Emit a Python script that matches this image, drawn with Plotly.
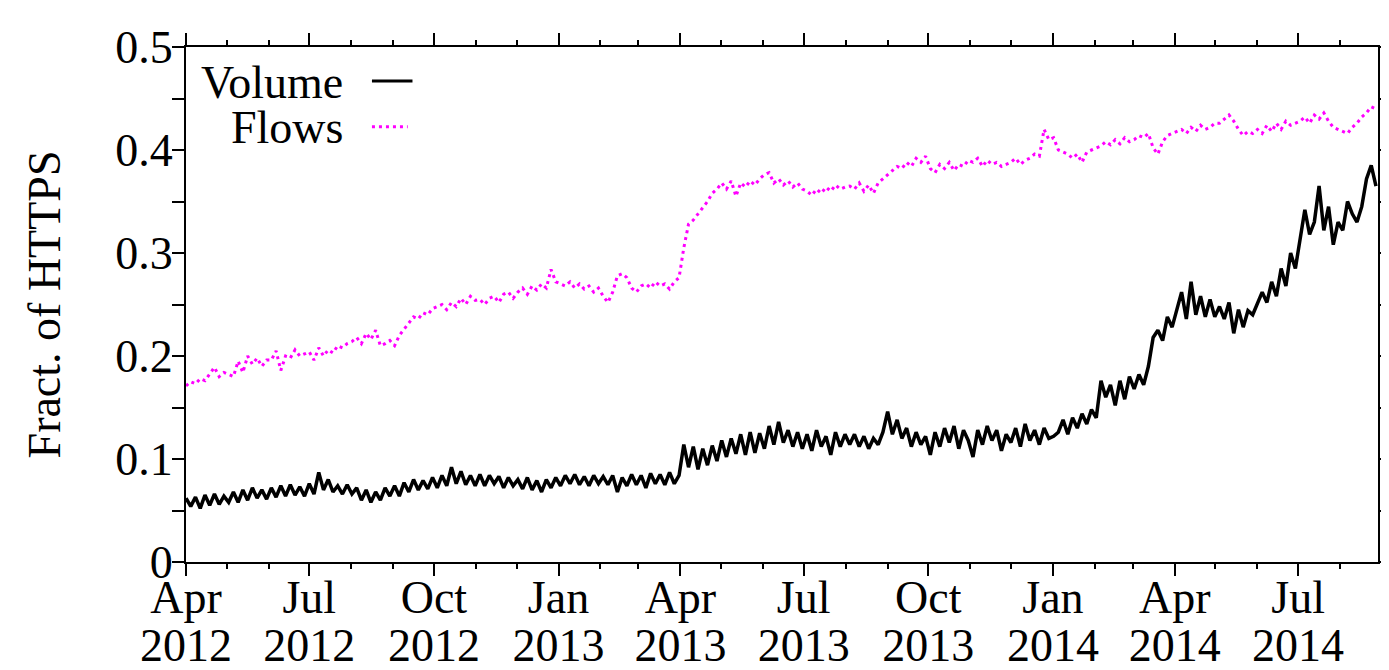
import pandas as pd
import plotly.graph_objects as go

# Half-week samples starting 2012-04-01 (3.5 day spacing)
start_date = "2012-04-01"
step = "84h"

volume = [
    # Apr 2012
    0.062, 0.054, 0.063, 0.052, 0.065, 0.055, 0.066, 0.056, 0.064,
    # May
    0.058, 0.068, 0.058, 0.070, 0.060, 0.072, 0.062, 0.070, 0.061,
    # Jun
    0.072, 0.063, 0.074, 0.064, 0.075, 0.065, 0.073, 0.064,
    # Jul
    0.076, 0.066, 0.087, 0.070, 0.080, 0.068, 0.074, 0.066, 0.075,
    # Aug
    0.066, 0.072, 0.060, 0.070, 0.058, 0.068, 0.060, 0.072, 0.064,
    # Sep
    0.074, 0.064, 0.077, 0.068, 0.080, 0.070, 0.079, 0.071, 0.082,
    # Oct
    0.072, 0.084, 0.074, 0.092, 0.076, 0.088, 0.075, 0.084, 0.074,
    # Nov
    0.085, 0.074, 0.084, 0.076, 0.083, 0.072, 0.082, 0.074,
    # Dec
    0.080, 0.071, 0.082, 0.070, 0.079, 0.068, 0.080, 0.072, 0.082,
    # Jan 2013
    0.074, 0.084, 0.076, 0.085, 0.075, 0.083, 0.074, 0.084, 0.076,
    # Feb
    0.083, 0.075, 0.084, 0.068, 0.082, 0.074, 0.085, 0.075,
    # Mar
    0.084, 0.072, 0.086, 0.076, 0.085, 0.075, 0.087, 0.076, 0.084,
    # Apr 2013
    0.114, 0.092, 0.112, 0.090, 0.110, 0.094, 0.113, 0.098,
    # May
    0.118, 0.102, 0.120, 0.105, 0.124, 0.104, 0.126, 0.106, 0.125,
    # Jun
    0.110, 0.132, 0.114, 0.136, 0.116, 0.128, 0.112, 0.126, 0.110,
    # Jul
    0.124, 0.108, 0.128, 0.112, 0.122, 0.104, 0.126, 0.112, 0.124,
    # Aug
    0.114, 0.124, 0.112, 0.122, 0.110, 0.120, 0.114, 0.126,
    # Sep
    0.146, 0.124, 0.138, 0.120, 0.130, 0.112, 0.126, 0.114, 0.122,
    # Oct
    0.104, 0.126, 0.112, 0.130, 0.116, 0.132, 0.110, 0.128, 0.118,
    # Nov
    0.102, 0.128, 0.114, 0.132, 0.118, 0.128, 0.108, 0.124,
    # Dec
    0.116, 0.130, 0.112, 0.134, 0.118, 0.128, 0.114, 0.130, 0.120,
    # Jan 2014
    0.122, 0.126, 0.138, 0.124, 0.140, 0.130, 0.144, 0.134, 0.148,
    # Feb
    0.140, 0.176, 0.160, 0.172, 0.152, 0.176, 0.158, 0.180,
    # Mar
    0.168, 0.182, 0.172, 0.190, 0.218, 0.225, 0.215, 0.238, 0.228,
    # Apr
    0.245, 0.262, 0.236, 0.272, 0.240, 0.258, 0.238, 0.255, 0.238,
    # May
    0.248, 0.236, 0.252, 0.222, 0.245, 0.228, 0.244, 0.240,
    # Jun
    0.250, 0.262, 0.252, 0.272, 0.258, 0.285, 0.268, 0.300, 0.285,
    # Jul
    0.315, 0.342, 0.318, 0.330, 0.365, 0.322, 0.345, 0.308, 0.330,
    # Aug
    0.322, 0.350, 0.338, 0.330, 0.345, 0.372, 0.385, 0.365,
]

flows = [
    # Apr 2012
    0.171, 0.175, 0.173, 0.178, 0.176, 0.182, 0.189, 0.180, 0.184,
    # May
    0.182, 0.180, 0.195, 0.184, 0.200, 0.192, 0.198, 0.190, 0.196,
    # Jun
    0.196, 0.205, 0.186, 0.200, 0.198, 0.206, 0.200, 0.202,
    # Jul
    0.204, 0.196, 0.208, 0.200, 0.206, 0.203, 0.210, 0.208, 0.212,
    # Aug
    0.214, 0.218, 0.212, 0.222, 0.216, 0.225, 0.210, 0.212, 0.215,
    # Sep
    0.210, 0.220, 0.226, 0.232, 0.238, 0.236, 0.242, 0.240, 0.246,
    # Oct
    0.248, 0.250, 0.245, 0.252, 0.248, 0.256, 0.250, 0.258, 0.254,
    # Nov
    0.255, 0.250, 0.256, 0.258, 0.252, 0.260, 0.262, 0.256,
    # Dec
    0.262, 0.266, 0.260, 0.268, 0.264, 0.270, 0.266, 0.284, 0.272,
    # Jan 2013
    0.270, 0.268, 0.272, 0.266, 0.270, 0.265, 0.268, 0.262, 0.266,
    # Feb
    0.258, 0.252, 0.262, 0.278, 0.280, 0.276, 0.266, 0.262,
    # Mar
    0.268, 0.270, 0.266, 0.272, 0.268, 0.270, 0.265, 0.272, 0.276,
    # Apr 2013
    0.305, 0.328, 0.332, 0.338, 0.344, 0.350, 0.358, 0.362,
    # May
    0.368, 0.362, 0.370, 0.355, 0.368, 0.364, 0.370, 0.366, 0.372,
    # Jun
    0.376, 0.378, 0.368, 0.372, 0.366, 0.370, 0.364, 0.368, 0.362,
    # Jul
    0.360, 0.356, 0.362, 0.358, 0.364, 0.360, 0.366, 0.362, 0.364,
    # Aug
    0.365, 0.362, 0.368, 0.360, 0.366, 0.358, 0.368, 0.372,
    # Sep
    0.376, 0.380, 0.384, 0.382, 0.388, 0.384, 0.392, 0.388, 0.394,
    # Oct
    0.382, 0.378, 0.386, 0.382, 0.388, 0.380, 0.386, 0.384, 0.390,
    # Nov
    0.388, 0.392, 0.384, 0.390, 0.386, 0.388, 0.384, 0.386,
    # Dec
    0.388, 0.392, 0.386, 0.390, 0.392, 0.396, 0.394, 0.420, 0.410,
    # Jan 2014
    0.412, 0.400, 0.398, 0.396, 0.392, 0.396, 0.388, 0.398, 0.400,
    # Feb
    0.402, 0.404, 0.408, 0.405, 0.410, 0.406, 0.412, 0.408,
    # Mar
    0.410, 0.414, 0.412, 0.416, 0.402, 0.396, 0.408, 0.414, 0.416,
    # Apr
    0.418, 0.420, 0.416, 0.422, 0.418, 0.424, 0.420, 0.422, 0.426,
    # May
    0.426, 0.430, 0.434, 0.428, 0.420, 0.414, 0.418, 0.416,
    # Jun
    0.420, 0.416, 0.424, 0.418, 0.426, 0.420, 0.428, 0.424, 0.426,
    # Jul
    0.428, 0.432, 0.426, 0.434, 0.430, 0.436, 0.428, 0.422, 0.420,
    # Aug
    0.418, 0.416, 0.422, 0.426, 0.432, 0.436, 0.442, 0.440,
]

x_tick_dates = ["2012-04-01", "2012-07-01", "2012-10-01", "2013-01-01",
                "2013-04-01", "2013-07-01", "2013-10-01", "2014-01-01",
                "2014-04-01", "2014-07-01"]
x_tick_months = ["Apr", "Jul", "Oct", "Jan", "Apr", "Jul", "Oct", "Jan",
                 "Apr", "Jul"]
x_tick_years = ["2012", "2012", "2012", "2013", "2013", "2013", "2013",
                "2014", "2014", "2014"]
y_tick_vals = [0, 0.1, 0.2, 0.3, 0.4, 0.5]
y_tick_labels = ["0", "0.1", "0.2", "0.3", "0.4", "0.5"]

dates = pd.date_range(start_date, periods=len(volume), freq=step)
minor_months = pd.date_range("2012-04-01", "2014-09-01", freq="MS")
x_range = ["2012-04-01", "2014-08-29"]

FONT = "Liberation Serif, Times New Roman, serif"
FS = 46

fig = go.Figure()
fig.add_trace(go.Scatter(x=dates, y=volume, mode="lines", name="Volume",
                         line=dict(color="black", width=3.5)))
fig.add_trace(go.Scatter(x=dates, y=flows, mode="lines", name="Flows",
                         line=dict(color="#ff00ff", width=3, dash="3px,4px")))
# carrier trace for the year-label axis (invisible)
fig.add_trace(go.Scatter(x=dates, y=volume, mode="lines", xaxis="x2",
                         line=dict(width=0), opacity=0, hoverinfo="skip",
                         showlegend=False))

axis_common = dict(showline=True, linecolor="black", linewidth=2,
                   mirror="allticks", ticks="outside", ticklen=12,
                   tickwidth=2, tickcolor="black", showgrid=False,
                   zeroline=False, automargin=False,
                   tickfont=dict(family=FONT, size=FS, color="black"))

fig.update_layout(
    xaxis=dict(range=x_range, tickmode="array", tickvals=x_tick_dates,
               ticktext=x_tick_months, ticklabelstandoff=-18,
               minor=dict(tickmode="array", tickvals=list(minor_months),
                          ticks="outside", ticklen=5, tickwidth=2,
                          tickcolor="black", showgrid=False),
               **axis_common),
    xaxis2=dict(range=x_range, overlaying="x", anchor="y", side="bottom",
                tickmode="array", tickvals=x_tick_dates,
                ticktext=x_tick_years, ticks="", showline=False,
                showgrid=False, zeroline=False, automargin=False,
                ticklabelstandoff=52,
                tickfont=dict(family=FONT, size=FS, color="black")),
    yaxis=dict(range=[0, 0.5], tickmode="array", tickvals=y_tick_vals,
               ticktext=y_tick_labels, ticklabelstandoff=-10,
               minor=dict(tickmode="linear", tick0=0, dtick=0.05,
                          ticks="outside", ticklen=5, tickwidth=2,
                          tickcolor="black", showgrid=False),
               title=dict(text="Fract. of HTTPS",
                          font=dict(family=FONT, size=FS, color="black"),
                          standoff=40),
               **axis_common),
)

# Legend (gnuplot style: text right-aligned, sample to the right)
fig.add_annotation(xref="paper", yref="paper", x=0.1334, y=0.932,
                   xanchor="right", yanchor="middle", showarrow=False,
                   text="Volume", font=dict(family=FONT, size=FS, color="black"))
fig.add_annotation(xref="paper", yref="paper", x=0.1334, y=0.843,
                   xanchor="right", yanchor="middle", showarrow=False,
                   text="Flows", font=dict(family=FONT, size=FS, color="black"))
fig.add_shape(type="line", xref="paper", yref="paper", x0=0.156, x1=0.190,
              y0=0.934, y1=0.934, line=dict(color="black", width=3))
fig.add_shape(type="line", xref="paper", yref="paper", x0=0.156, x1=0.186,
              y0=0.845, y1=0.845, line=dict(color="#ff00ff", width=3, dash="3px,4px"))

# page renders the figure with an 8px body offset; margins compensate
fig.update_layout(width=1389, height=670, showlegend=False,
                  plot_bgcolor="white", paper_bgcolor="white",
                  margin=dict(l=178, r=19, t=39, b=116, autoexpand=False),
                  font=dict(family=FONT, size=FS, color="black"))

fig.write_html("out.html")
